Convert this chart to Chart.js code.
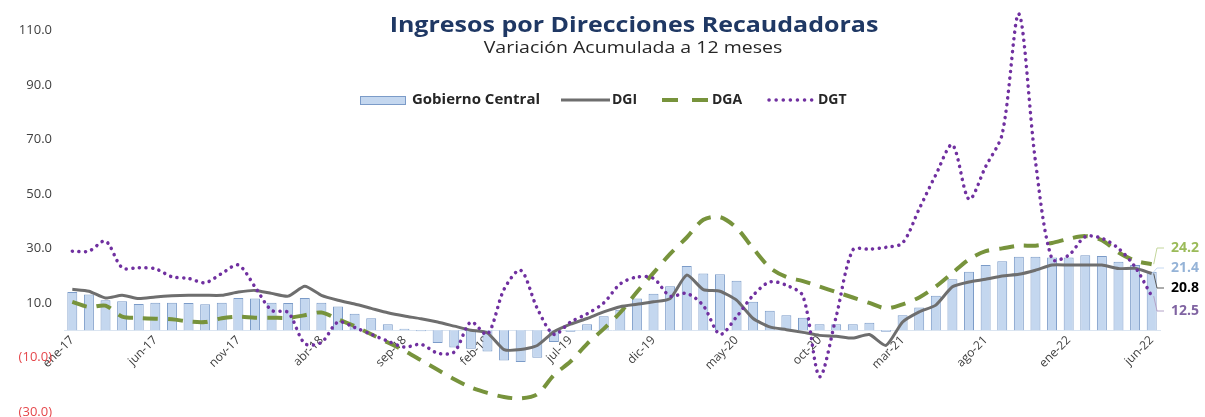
<!DOCTYPE html>
<html>
<head>
<meta charset="utf-8">
<script src="https://cdn.jsdelivr.net/npm/chart.js@4"></script>
<style>
html, body { margin: 0; padding: 0; background: #fff; }
#contenitore { position: relative; width: 1205px; height: 417px; }
</style>
</head>
<body>
<div id="contenitore"><canvas id="grafico" width="1205" height="417"></canvas></div>
<script>
// Dati (variazione acumulada a 12 meses, %)
const meses = [
    'ene-17','feb-17','mar-17','abr-17','may-17','jun-17','jul-17','ago-17','sep-17','oct-17','nov-17','dic-17',
    'ene-18','feb-18','mar-18','abr-18','may-18','jun-18','jul-18','ago-18','sep-18','oct-18','nov-18','dic-18',
    'ene-19','feb-19','mar-19','abr-19','may-19','jun-19','jul-19','ago-19','sep-19','oct-19','nov-19','dic-19',
    'ene-20','feb-20','mar-20','abr-20','may-20','jun-20','jul-20','ago-20','sep-20','oct-20','nov-20','dic-20',
    'ene-21','feb-21','mar-21','abr-21','may-21','jun-21','jul-21','ago-21','sep-21','oct-21','nov-21','dic-21',
    'ene-22','feb-22','mar-22','abr-22','may-22','jun-22'
];

const gobiernoCentral = [
    14.0, 13.1, 11.0, 10.6, 9.6, 10.1, 10.1, 10.0, 9.5, 10.1,
    11.8, 11.6, 10.1, 10.0, 11.8, 10.1, 8.7, 6.0, 4.4, 2.2,
    0.5, -0.4, -4.7, -6.3, -6.8, -7.8, -11.1, -11.7, -10.1, -4.3,
    -0.6, 2.2, 5.1, 7.5, 11.6, 13.4, 16.1, 23.5, 20.8, 20.5,
    18.1, 10.4, 7.1, 5.5, 4.6, 2.2, 2.2, 2.2, 2.7, -0.6,
    5.5, 8.3, 12.6, 18.7, 21.4, 23.9, 25.3, 26.9, 26.9, 26.7,
    26.7, 27.5, 27.2, 25.1, 23.9, 21.4
];

const dgi = [
    15.0, 14.3, 11.8, 12.8, 11.6, 12.2, 12.6, 12.8, 12.8, 12.8,
    14.0, 14.6, 13.5, 12.5, 16.1, 12.8, 11.0, 9.6, 8.0, 6.4,
    5.2, 4.2, 3.0, 1.5, 0.0, -1.0, -7.1, -7.1, -5.6, -0.6,
    2.2, 4.3, 6.7, 8.6, 9.5, 10.4, 11.6, 20.2, 14.9, 14.3,
    11.0, 4.3, 1.2, 0.2, -0.8, -1.9, -2.2, -2.9, -1.6, -5.6,
    3.0, 6.7, 9.2, 15.9, 17.7, 18.7, 19.9, 20.5, 22.0, 23.9,
    23.9, 23.9, 23.9, 22.6, 22.7, 20.8
];

const dga = [
    10.4, 8.5, 9.0, 5.0, 4.5, 4.2, 4.0, 3.2, 3.0, 4.4,
    5.0, 4.6, 4.6, 4.5, 5.5, 6.5, 4.0, 1.5, -1.5, -4.5,
    -7.5, -11.0, -14.5, -18.0, -21.0, -23.0, -24.5, -25.0, -23.5, -16.5,
    -11.5, -5.0, 0.5, 6.5, 14.0, 21.0, 28.0, 34.0, 40.5, 41.5,
    37.5, 30.0, 23.0, 19.5, 18.0, 16.0, 14.0, 12.0, 10.0, 8.0,
    9.5, 12.0, 16.0, 21.0, 26.0, 29.0, 30.0, 31.0, 31.0, 32.0,
    33.5, 34.5, 33.0, 28.5, 25.5, 24.2
];

const dgt = [
    29.0, 29.0, 32.7, 22.9, 22.9, 22.5, 19.6, 19.0, 17.4, 20.8,
    23.9, 15.9, 7.3, 6.5, -4.9, -4.5, 3.0, 1.0, -1.5, -4.0,
    -6.2, -5.2, -8.4, -8.0, 3.0, -1.5, 15.0, 22.0, 8.0, -1.5,
    3.0, 6.0, 10.0, 17.0, 19.5, 19.0, 12.5, 13.5, 9.0, -1.5,
    4.9, 12.8, 17.7, 16.5, 12.5, -17.0, 5.0, 29.4, 29.7, 30.4,
    32.0, 44.5, 57.0, 68.0, 48.0, 60.0, 72.0, 116.0, 62.0, 26.0,
    27.5, 34.3, 33.7, 30.0, 23.2, 12.5
];

const ticksY = [-30, -10, 10, 30, 50, 70, 90, 110];

const titolo = 'Ingresos por Direcciones Recaudadoras';
const sottotitolo = 'Variación Acumulada a 12 meses';
const FONT = "'Open Sans', sans-serif";

// testo centrato e allargato in orizzontale (l'originale è stirato)
function testoStirato(ctx, testo, cx, cy, font, sx) {
    ctx.save();
    ctx.font = font;
    ctx.translate(cx, cy);
    ctx.scale(sx, 1);
    ctx.textAlign = 'center';
    ctx.textBaseline = 'middle';
    ctx.fillText(testo, 0, 0);
    ctx.restore();
}

// Titolo, legenda ed etichette finali disegnate sopra il grafico
const pluginDecorazioni = {
    id: 'decorazioni',
    afterDraw: (chart) => {
        const ctx = chart.ctx;
        ctx.save();

        // titolo
        ctx.fillStyle = '#1f3864';
        testoStirato(ctx, titolo, 634, 26, 'bold 21px ' + FONT, 1.19);
        ctx.fillStyle = '#262626';
        testoStirato(ctx, sottotitolo, 633, 48, '16px ' + FONT, 1.22);

        // legenda
        const yl = 100;
        ctx.textAlign = 'left';
        ctx.textBaseline = 'middle';
        ctx.font = 'bold 14px ' + FONT;
        ctx.fillStyle = '#c4d7ef';
        ctx.fillRect(360, yl - 4, 45, 8);
        ctx.strokeStyle = '#7b9bc8';
        ctx.lineWidth = 1;
        ctx.strokeRect(360.5, yl - 3.5, 45, 8);
        ctx.fillStyle = '#262626';
        ctx.save();
        ctx.translate(412, yl);
        ctx.scale(1.07, 1);
        ctx.fillText('Gobierno Central', 0, 0);
        ctx.restore();

        ctx.lineCap = 'butt';
        ctx.strokeStyle = '#6e6e6e';
        ctx.lineWidth = 3;
        ctx.beginPath(); ctx.moveTo(561, yl); ctx.lineTo(610, yl); ctx.stroke();
        ctx.fillText('DGI', 612, yl);

        ctx.strokeStyle = '#77933c';
        ctx.lineWidth = 4;
        ctx.setLineDash([16, 14]);
        ctx.beginPath(); ctx.moveTo(662, yl); ctx.lineTo(708, yl); ctx.stroke();
        ctx.fillText('DGA', 712, yl);

        ctx.strokeStyle = '#7030a0';
        ctx.lineWidth = 3.5;
        ctx.lineCap = 'round';
        ctx.setLineDash([0.1, 7]);
        ctx.beginPath(); ctx.moveTo(769, yl); ctx.lineTo(815, yl); ctx.stroke();
        ctx.setLineDash([]);
        ctx.fillText('DGT', 818, yl);

        // etichette dell'ultimo valore
        const xScale = chart.scales.x;
        const yScale = chart.scales.y;
        const ultimo = meses.length - 1;
        const xp = xScale.getPixelForValue(ultimo);
        const finali = [
            { v: dga[ultimo], y: 248, colore: '#9bbb59', linea: '#c3d69b' },
            { v: gobiernoCentral[ultimo], y: 268, colore: '#95b3d7', linea: '#c6d9f1' },
            { v: dgi[ultimo], y: 288, colore: '#000000', linea: '#595959' },
            { v: dgt[ultimo], y: 311, colore: '#8064a2', linea: '#b3a2c7' }
        ];
        ctx.lineCap = 'butt';
        ctx.lineWidth = 1;
        ctx.font = 'bold 14px ' + FONT;
        finali.forEach(f => {
            const yp = yScale.getPixelForValue(f.v);
            ctx.strokeStyle = f.linea;
            ctx.beginPath();
            ctx.moveTo(xp + 2, yp);
            ctx.lineTo(1157, f.y);
            ctx.lineTo(1164, f.y);
            ctx.stroke();
            ctx.fillStyle = f.colore;
            ctx.fillText(f.v.toFixed(1), 1171, f.y);
        });

        ctx.restore();
    }
};

const canvas = document.getElementById('grafico');

new Chart(canvas, {
    type: 'bar',
    data: {
        labels: meses,
        datasets: [
            {
                type: 'line', label: 'DGT', data: dgt,
                borderColor: '#7030a0', borderWidth: 3.5,
                borderDash: [0.1, 6.5], borderCapStyle: 'round',
                pointRadius: 0, tension: 0.3, order: 1
            },
            {
                type: 'line', label: 'DGI', data: dgi,
                borderColor: '#6e6e6e', borderWidth: 3,
                pointRadius: 0, tension: 0.2, order: 2
            },
            {
                type: 'line', label: 'DGA', data: dga,
                borderColor: '#77933c', borderWidth: 4,
                borderDash: [15, 10],
                pointRadius: 0, tension: 0.3, order: 3
            },
            {
                type: 'bar', label: 'Gobierno Central', data: gobiernoCentral,
                backgroundColor: '#c4d7ef', borderColor: '#7b9bc8', borderWidth: 1,
                barPercentage: 0.6, categoryPercentage: 1, order: 5
            }
        ]
    },
    options: {
        responsive: false,
        animation: false,
        layout: { padding: { left: 0, right: 45, top: 3, bottom: 5 } },
        plugins: {
            legend: { display: false },
            tooltip: { enabled: false }
        },
        scales: {
            x: {
                position: { y: 0 },
                offset: true,
                grid: { display: false, drawTicks: false },
                border: { display: true, color: '#dbe5f1', width: 1 },
                ticks: {
                    autoSkip: false, maxRotation: 45, minRotation: 45, padding: 3,
                    color: '#404040', font: { family: FONT, size: 12 },
                    callback: (v, i) => i % 5 === 0 ? meses[i] : ''
                }
            },
            y: {
                min: -30, max: 120,
                afterBuildTicks: (s) => { s.ticks = ticksY.map(v => ({ value: v })); },
                afterFit: (s) => { s.width = 64; s.paddingTop = 0; s.paddingBottom = 0; },
                grid: { display: false, drawTicks: false },
                border: { display: false },
                ticks: {
                    padding: 12,
                    color: (c) => c.tick.value < 0 ? '#e5474b' : '#404040',
                    font: { family: FONT, size: 13 },
                    callback: (v) => v < 0 ? '(' + Math.abs(v).toFixed(1) + ')' : v.toFixed(1)
                }
            }
        }
    },
    plugins: [pluginDecorazioni]
});
</script>
</body>
</html>
